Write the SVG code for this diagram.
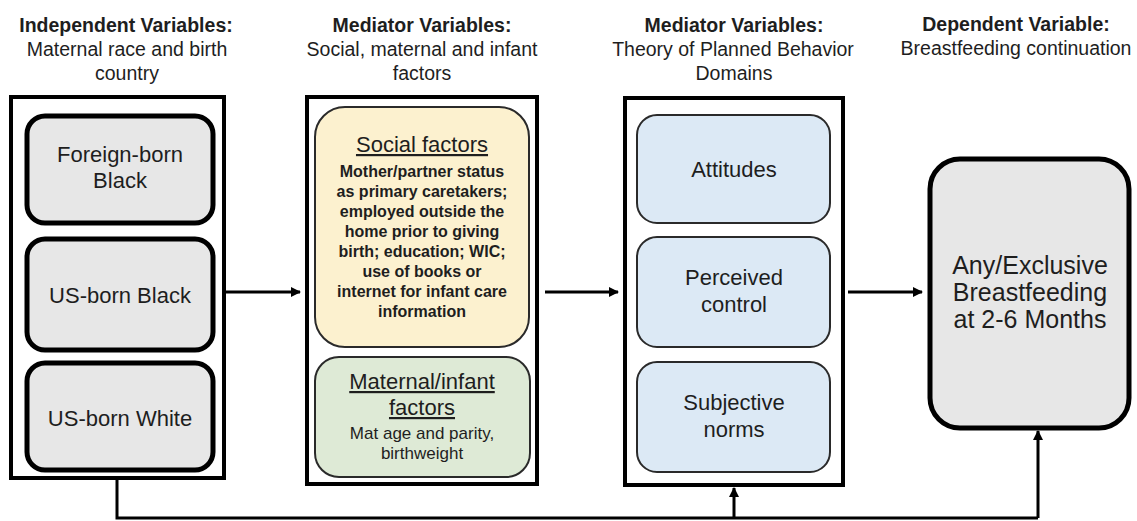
<svg xmlns="http://www.w3.org/2000/svg" width="1137" height="521" viewBox="0 0 1137 521">
<style>
text{font-family:"Liberation Sans",Arial,sans-serif;fill:#1e1e1e;text-anchor:middle}
.hb{font-size:19.5px;font-weight:bold}
.hr{font-size:19.5px}
.panel{fill:#fff;stroke:#000;stroke-width:4}
.gray{fill:#e7e7e7;stroke:#000;stroke-width:5}
.yel{fill:#fcf1cf;stroke:#2a2a2a;stroke-width:2}
.grn{fill:#deead6;stroke:#2a2a2a;stroke-width:2}
.blu{fill:#dce9f5;stroke:#2a2a2a;stroke-width:2}
.t22{font-size:22px}
.sb{font-size:16px;font-weight:bold}
.s17{font-size:17px}
.big{font-size:25px}
.con{fill:none;stroke:#000;stroke-width:3}
</style>
<defs>
<marker id="ah" markerWidth="10" markerHeight="10" refX="9" refY="5" orient="auto" markerUnits="userSpaceOnUse">
<path d="M0,0 L10,5 L0,10 Z" fill="#000"/>
</marker>
</defs>

<g id="headers">
<text class="hb" x="126" y="32">Independent Variables:</text>
<text class="hr" x="127" y="56">Maternal race and birth</text>
<text class="hr" x="127" y="80">country</text>
<text class="hb" x="422" y="32">Mediator Variables:</text>
<text class="hr" x="422" y="56">Social, maternal and infant</text>
<text class="hr" x="422" y="80">factors</text>
<text class="hb" x="734" y="32">Mediator Variables:</text>
<text class="hr" x="733" y="56">Theory of Planned Behavior</text>
<text class="hr" x="734" y="80">Domains</text>
<text class="hb" x="1016" y="31">Dependent Variable:</text>
<text class="hr" x="1016" y="55">Breastfeeding continuation</text>
</g>

<g id="panel-independent">
<rect class="panel" x="11" y="97" width="213" height="381"/>
</g>
<g id="foreign-born-black">
<rect class="gray" x="27" y="116" width="186" height="107" rx="18"/>
<text class="t22" x="120" y="162">Foreign-born</text>
<text class="t22" x="120" y="188">Black</text>
</g>
<g id="us-born-black">
<rect class="gray" x="27" y="239" width="186" height="111" rx="18"/>
<text class="t22" x="120" y="303">US-born Black</text>
</g>
<g id="us-born-white">
<rect class="gray" x="27" y="363" width="186" height="107" rx="18"/>
<text class="t22" x="120" y="426">US-born White</text>
</g>

<g id="panel-social-maternal">
<rect class="panel" x="307" y="97" width="230" height="387"/>
</g>
<g id="social-factors">
<rect class="yel" x="315" y="107" width="214" height="240" rx="30"/>
<text class="t22" x="422" y="152" text-decoration="underline">Social factors</text>
<text class="sb" x="422" y="177">Mother/partner status</text>
<text class="sb" x="422" y="197">as primary caretakers;</text>
<text class="sb" x="422" y="217">employed outside the</text>
<text class="sb" x="422" y="237">home prior to giving</text>
<text class="sb" x="422" y="257">birth; education; WIC;</text>
<text class="sb" x="422" y="277">use of books or</text>
<text class="sb" x="422" y="297">internet for infant care</text>
<text class="sb" x="422" y="317">information</text>
</g>
<g id="maternal-infant-factors">
<rect class="grn" x="315" y="357" width="215" height="120" rx="24"/>
<text class="t22" x="422" y="389" text-decoration="underline">Maternal/infant</text>
<text class="t22" x="422" y="415" text-decoration="underline">factors</text>
<text class="s17" x="422" y="439">Mat age and parity,</text>
<text class="s17" x="422" y="459">birthweight</text>
</g>

<g id="panel-tpb">
<rect class="panel" x="625" y="98" width="218" height="387"/>
</g>
<g id="attitudes">
<rect class="blu" x="637" y="115" width="193" height="108" rx="20"/>
<text class="t22" x="734" y="177">Attitudes</text>
</g>
<g id="perceived-control">
<rect class="blu" x="637" y="237" width="193" height="110" rx="20"/>
<text class="t22" x="734" y="285">Perceived</text>
<text class="t22" x="734" y="312">control</text>
</g>
<g id="subjective-norms">
<rect class="blu" x="637" y="362" width="193" height="110" rx="20"/>
<text class="t22" x="734" y="410">Subjective</text>
<text class="t22" x="734" y="437">norms</text>
</g>

<g id="outcome">
<rect class="gray" x="930" y="159" width="199" height="269" rx="30"/>
<text class="big" x="1030" y="274">Any/Exclusive</text>
<text class="big" x="1030" y="301">Breastfeeding</text>
<text class="big" x="1030" y="328">at 2-6 Months</text>
</g>

<g id="connectors">
<line class="con" x1="226" y1="292" x2="300" y2="292" marker-end="url(#ah)"/>
<line class="con" x1="545" y1="292" x2="618" y2="292" marker-end="url(#ah)"/>
<line class="con" x1="848" y1="292" x2="922" y2="292" marker-end="url(#ah)"/>
<polyline class="con" points="117,480 117,518 1038,518"/>
<line class="con" x1="1038" y1="518" x2="1038" y2="431" marker-end="url(#ah)"/>
<line class="con" x1="734" y1="518" x2="734" y2="488" marker-end="url(#ah)"/>
</g>
</svg>
